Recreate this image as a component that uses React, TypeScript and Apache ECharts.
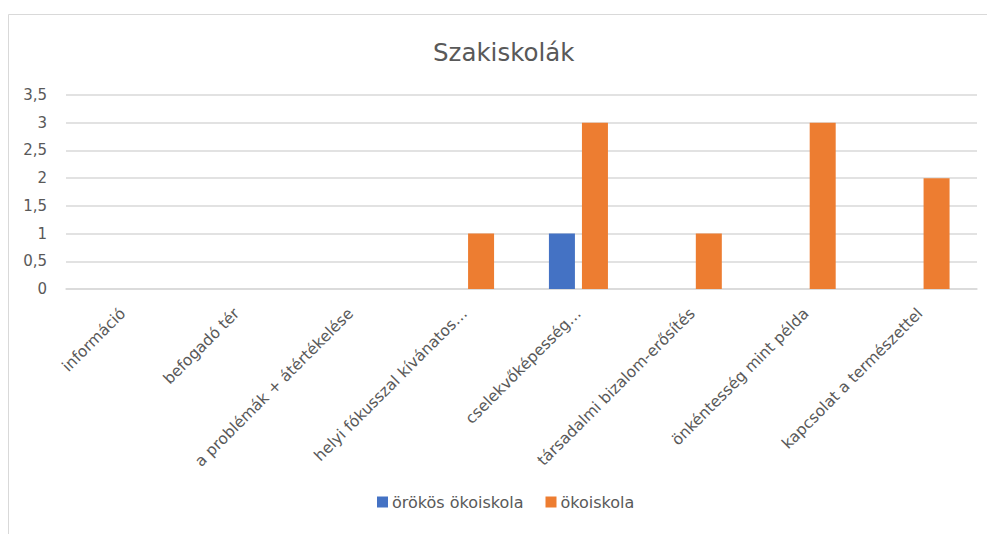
import React, { useEffect, useRef } from "react";
import * as echarts from "echarts";

const categories = [
  "információ",
  "befogadó tér",
  "a problémák + átértékelése",
  "helyi fókusszal kívánatos…",
  "cselekvőképesség…",
  "társadalmi bizalom-erősítés",
  "önkéntesség mint példa",
  "kapcsolat a természettel",
];
const orokosValues = [0, 0, 0, 0, 1, 0, 0, 0];
const okoiskolaValues = [0, 0, 0, 1, 3, 1, 3, 2];
const seriesNames = ["örökös ökoiskola", "ökoiskola"];
const titleText = "Szakiskolák";

const FONT = "'DejaVu Sans', sans-serif";
const TXT = "#595959";

export default function App() {
  const ref = useRef<HTMLDivElement>(null);
  useEffect(() => {
    if (!ref.current) return;
    const chart = echarts.init(ref.current, undefined, { renderer: "svg" });
    chart.setOption({
      animation: false,
      backgroundColor: "#ffffff",
      textStyle: { fontFamily: FONT },
      graphic: [
        {
          type: "rect",
          shape: { x: 8.5, y: 14.5, width: 1000, height: 600 },
          style: { fill: "none", stroke: "#D9D9D9", lineWidth: 1 },
          silent: true,
          z: -10,
        },
      ],
      title: {
        text: titleText,
        left: 428,
        top: 35,
        textStyle: { fontFamily: FONT, fontSize: 24.5, fontWeight: "normal", color: TXT },
      },
      legend: {
        data: seriesNames,
        bottom: 19,
        left: 372,
        itemWidth: 11,
        itemHeight: 11,
        itemGap: 22,
        icon: "rect",
        textStyle: { fontFamily: FONT, fontSize: 16, color: TXT, padding: [0, 0, 0, -1] },
      },
      grid: { left: 66, right: 10, top: 95, bottom: 245, containLabel: false },
      xAxis: {
        type: "category",
        data: categories,
        axisLine: { lineStyle: { color: "#D9D9D9", width: 1.5 } },
        axisTick: { show: false },
        axisLabel: {
          rotate: 45,
          interval: 0,
          margin: 22,
          fontFamily: FONT,
          fontSize: 15.5,
          color: TXT,
        },
      },
      yAxis: {
        type: "value",
        min: 0,
        max: 3.5,
        interval: 0.5,
        axisLine: { show: false },
        axisTick: { show: false },
        splitLine: { lineStyle: { color: "#D9D9D9", width: 1.5 } },
        axisLabel: {
          fontFamily: FONT,
          fontSize: 15,
          color: TXT,
          margin: 19,
          formatter: (v: number) => String(v).replace(".", ","),
        },
      },
      series: [
        {
          name: seriesNames[0],
          type: "bar",
          data: orokosValues,
          barWidth: 26,
          barGap: "27%",
          itemStyle: { color: "#4472C4" },
        },
        {
          name: seriesNames[1],
          type: "bar",
          data: okoiskolaValues,
          barWidth: 26,
          barGap: "27%",
          itemStyle: { color: "#ED7D31" },
        },
      ],
    });
    return () => chart.dispose();
  }, []);
  return (
    <div
      ref={ref}
      style={{ position: "fixed", left: 0, top: 0, width: 987, height: 534 }}
    />
  );
}
